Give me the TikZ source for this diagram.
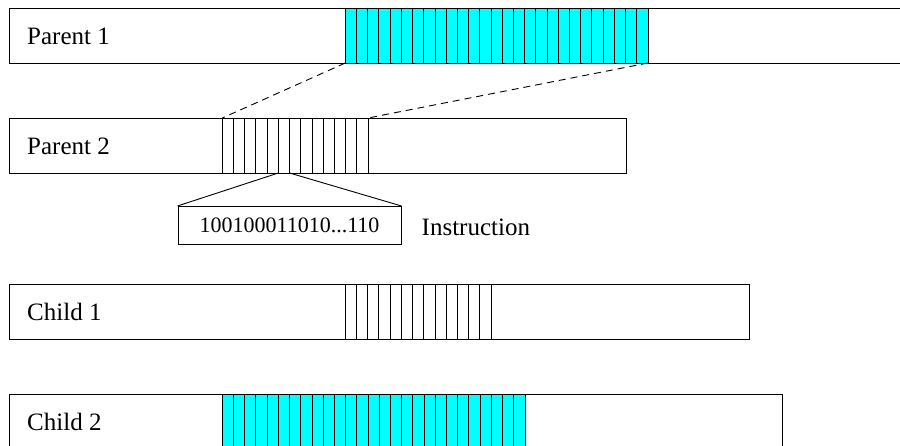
\documentclass[tikz,border=0pt]{standalone}
\usepackage{fontspec}
\setmainfont{Liberation Serif}
\definecolor{aqua}{RGB}{0,255,255}
\begin{document}
\begin{tikzpicture}[x=1pt,y=-1pt,
  chrom/.style={draw, line width=1pt, anchor=north west, inner sep=0pt, minimum height=55pt},
  lab/.style={anchor=west, inner sep=0pt, font=\fontsize{25}{29}\selectfont},
  cellw/.style={draw, line width=0.9pt},
  cellc/.style={draw, line width=0.9pt, fill=aqua},
  dlink/.style={draw, line width=0.9pt, dash pattern=on 7pt off 5pt},
  tri/.style={draw, line width=0.9pt},
  insbox/.style={draw, line width=1pt, inner sep=0pt, minimum width=223pt, minimum height=38pt, anchor=north west, font=\fontsize{22}{26}\selectfont}
]
\clip (0,0) rectangle (900,446);
\useasboundingbox (0,0) rectangle (900,446);
\def\cw{11.21}
% Parent 1
\node[chrom, minimum width=940pt] (p1) at (9,8) {};
\foreach \i in {0,...,26} \draw[cellc] (345.3+\i*\cw,8) rectangle ++(\cw,55);
\node[lab] (p1l) at ([xshift=18pt]p1.west) {Parent 1};
\coordinate (p1a) at (345.3,63);
\coordinate (p1b) at (648.0,63);
% Parent 2
\node[chrom, minimum width=616.5pt] (p2) at (9,118) {};
\foreach \i in {0,...,12} \draw[cellw] (222.3+\i*\cw,118) rectangle ++(\cw,55);
\node[lab] (p2l) at ([xshift=18pt]p2.west) {Parent 2};
\coordinate (p2a) at (222.3,118);
\coordinate (p2b) at (368.0,118);
\coordinate (p2c) at (222.3+5*\cw,173);
\coordinate (p2d) at (222.3+6*\cw,173);
% Instruction
\node[insbox] (ins) at (177.5,206) {100100011010...110};
\node[lab] (insl) at (421.5,227) {Instruction};
% Child 1
\node[chrom, minimum width=740pt] (c1) at (9,284) {};
\foreach \i in {0,...,12} \draw[cellw] (345.3+\i*\cw,284) rectangle ++(\cw,55);
\node[lab] (c1l) at ([xshift=18pt]c1.west) {Child 1};
% Child 2
\node[chrom, minimum width=773pt] (c2) at (9,394) {};
\foreach \i in {0,...,26} \draw[cellc] (222.3+\i*\cw,394) rectangle ++(\cw,55);
\node[lab] (c2l) at ([xshift=18pt]c2.west) {Child 2};
% connectors
\draw[dlink] (p1a) -- (p2a);
\draw[dlink] (p1b) -- (p2b);
\draw[tri] (p2c) -- (ins.north west);
\draw[tri] (p2d) -- (ins.north east);
\end{tikzpicture}
\end{document}
